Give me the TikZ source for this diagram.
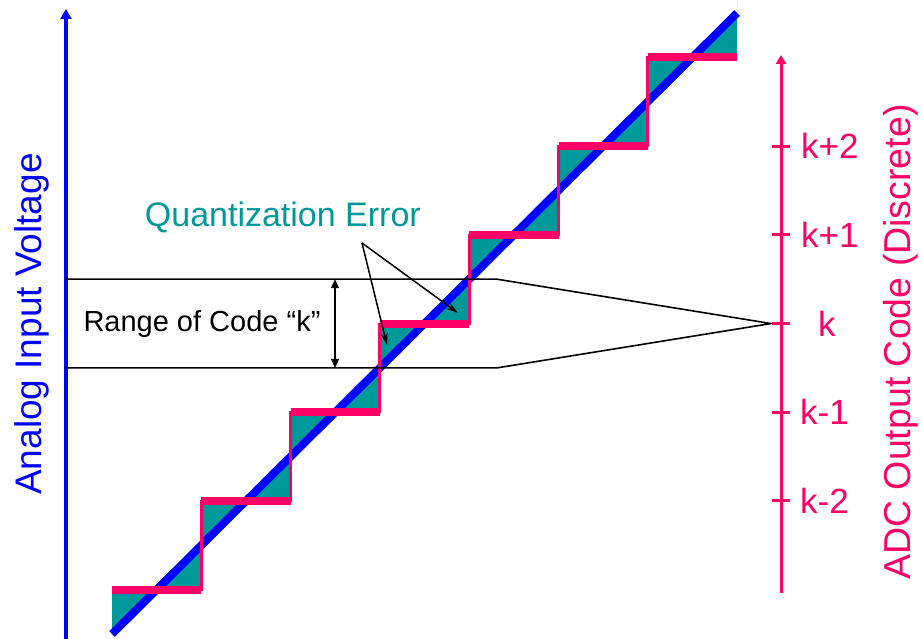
\documentclass[tikz,border=0pt]{standalone}
\usepackage{fontspec}
\setmainfont{Liberation Sans}
\usetikzlibrary{arrows.meta}
\definecolor{adcpink}{RGB}{255,0,102}
\definecolor{adcteal}{RGB}{0,153,153}
\definecolor{adcblue}{RGB}{0,0,255}
\begin{document}
\begin{tikzpicture}[x=1pt,y=-1pt,
  tread/.style={adcpink,line width=8pt},
  riser/.style={adcpink,line width=3pt},
  tickmark/.style={adcpink,line width=3pt},
  rangeline/.style={black,line width=1.6pt,line join=round},
  ptr/.style={black,line width=1.5pt,-{Stealth[length=12pt,width=7pt]}},
  dimarrow/.style={black,line width=1.5pt,{Triangle[length=9pt,width=8pt]}-{Triangle[length=9pt,width=8pt]}},
  codelabel/.style={adcpink,anchor=west,font=\fontsize{35}{40}\selectfont,inner sep=0pt}]
\useasboundingbox (0,0) rectangle (922,639);
\def\sx{89.3}
\def\sy{88.7}
% quantization error triangles
\fill[adcteal] (112,634) -- (112,589.65)
  \foreach \i in {1,...,7}{ -- ({112+\i*\sx},{589.65-(\i-1)*\sy}) -- ({112+\i*\sx},{589.65-\i*\sy}) }
  -- (737.1,13) -- cycle;
% ideal transfer line
\draw[adcblue,line width=8pt] (112,634) -- (737.1,13);
% staircase
\foreach \i in {0,...,6}{
  \draw[tread] ({112+\i*\sx},{589.65-\i*\sy}) -- ({112+(\i+1)*\sx},{589.65-\i*\sy});
}
\foreach \i in {1,...,6}{
  \draw[riser] ({112+\i*\sx},{589.65-(\i-1)*\sy+1}) -- ({112+\i*\sx},{589.65-\i*\sy-1});
}
% axes
\draw[adcblue,line width=4pt,-{Triangle[length=10pt,width=11pt]}] (66,639) -- (66,9);
\draw[adcpink,line width=3pt,-{Triangle[length=9pt,width=10pt]}] (781,593) -- (781,55);
\foreach \y in {146.15,234.85,323.55,412.25,500.95}{
  \draw[tickmark] (772,\y) -- (790,\y);
}
% code labels
\node[codelabel] (k2) at (801,146.15) {k+2};
\node[codelabel] (k1) at (801,234.85) {k+1};
\node[codelabel] (k0) at (818,323.55) {k};
\node[codelabel] (km1) at (800,412.25) {k-1};
\node[codelabel] (km2) at (800,500.95) {k-2};
% axis titles
\node[adcblue,rotate=90,font=\fontsize{37}{40}\selectfont,inner sep=0pt] (ain) at (32,324) {Analog Input Voltage};
\node[adcpink,rotate=90,font=\fontsize{37.5}{40}\selectfont,inner sep=0pt] (aout) at (901,342) {ADC Output Code (Discrete)};
% range of code k
\coordinate (ul) at (66,279.2);
\coordinate (ur) at (497,279.2);
\coordinate (ll) at (66,367.9);
\coordinate (lr) at (497,367.9);
\coordinate (apex) at (771,323.55);
\draw[rangeline] (ul) -- (ur) -- (apex) -- (lr) -- (ll);
\coordinate (dt) at (335,279.2);
\coordinate (db) at (335,367.9);
\draw[dimarrow] (dt) -- (db);
\node[font=\fontsize{29}{32}\selectfont,inner sep=0pt] (rng) at (202,324) {Range of Code “k”};
% quantization error label
\node[adcteal,anchor=base east,font=\fontsize{34}{38}\selectfont,inner sep=0pt] (qe) at (421,227) {Quantization Error};
\coordinate (qs) at (362,243);
\coordinate (qt1) at (387,345);
\coordinate (qt2) at (458,313);
\draw[ptr] (qs) -- (qt1);
\draw[ptr] (qs) -- (qt2);
\end{tikzpicture}
\end{document}
